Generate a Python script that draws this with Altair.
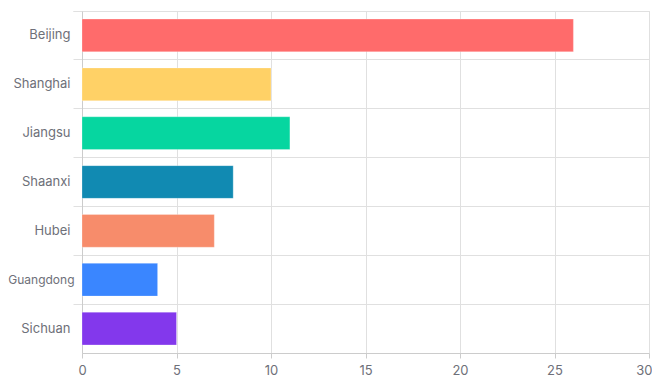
import altair as alt
import pandas as pd

provinces = ["Beijing", "Shanghai", "Jiangsu", "Shaanxi", "Hubei", "Guangdong", "Sichuan"]
counts = [26, 10, 11, 8, 7, 4, 5]
colors = ["#ff6b6b", "#ffd166", "#06d6a0", "#118ab2", "#f78c6b", "#3a86ff", "#8338ec"]
x_ticks = [0, 5, 10, 15, 20, 25, 30]

df = pd.DataFrame({"province": provinces, "count": counts})

label_color = "#6e7079"
grid_color = "#e0e0e0"
axis_color = "#cccccc"
font = "Inter"

chart = (
    alt.Chart(df)
    .mark_bar(height={"band": 0.67}, stroke="white", strokeOpacity=0.25, strokeWidth=1)
    .encode(
        x=alt.X(
            "count:Q",
            scale=alt.Scale(domain=[0, 30], nice=False),
            axis=alt.Axis(
                title=None,
                values=x_ticks,
                grid=True,
                gridColor=grid_color,
                domainColor=axis_color,
                tickColor=axis_color,
                tickSize=5,
                labelColor=label_color,
                labelFont=font,
                labelFontSize=13,
                labelPadding=6,
                labelFlush=False,
                labelAlign={"condition": {"test": "datum.value == 30", "value": "right"}, "value": "center"},
                labelOffset={"condition": {"test": "datum.value == 30", "value": 3}, "value": 0},
            ),
        ),
        y=alt.Y(
            "province:N",
            sort=provinces,
            scale=alt.Scale(paddingInner=0, paddingOuter=0),
            axis=alt.Axis(
                title=None,
                bandPosition=0,
                tickExtra=True,
                grid=True,
                gridColor=grid_color,
                domainColor=axis_color,
                tickColor=grid_color,
                tickSize=9,
                labelColor=label_color,
                labelFont=font,
                labelFontSize={"condition": {"test": "datum.value == 'Guangdong'", "value": 12}, "value": 13},
                labelPadding={"condition": {"test": "datum.value == 'Guangdong'", "value": -1}, "value": 3},
                labelLimit=200,
            ),
        ),
        color=alt.Color(
            "province:N",
            scale=alt.Scale(domain=provinces, range=colors),
            legend=None,
        ),
    )
    .properties(
        width=567,
        height=342,
        autosize=alt.AutoSizeParams(type="none"),
        padding={"left": 74, "top": 3, "right": 3, "bottom": 24},
    )
    .configure_view(stroke=None)
    .configure(background="white")
)

chart.save("out.html", embed_options={"renderer": "svg", "actions": False})
